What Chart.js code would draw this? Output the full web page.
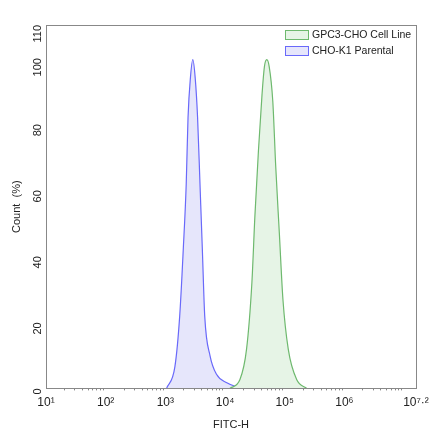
<!DOCTYPE html>
<html><head><meta charset="utf-8">
<script src="https://cdn.jsdelivr.net/npm/chart.js@4"></script>
<style>html,body{margin:0;padding:0;background:#fff}#w{width:440px;height:440px}</style>
</head><body><div id="w"><canvas id="c"></canvas></div>
<script>
const parentalX=[3.02,3.16,3.24,3.30,3.35,3.38,3.42,3.46,3.50,3.54,3.58,3.62,3.66,3.75,3.86,4.03,4.19,4.35];
const parentalY=[0,6.6,21.8,42,62,82,94,99.5,94,82,62,42,21.8,9.8,4.2,1.7,0.5,0];
const gpc3X=[4.08,4.25,4.36,4.45,4.50,4.56,4.62,4.66,4.70,4.74,4.80,4.85,4.91,4.97,5.06,5.20,5.37];
const gpc3Y=[0,2.7,11.8,32,52,72,89,97.4,99.5,97.4,87,67,47,27,11.8,2.7,0];
const xTicks=[1,2,3,4,5,6,7.2];
const xTickLabels=['10¹','10²','10³','10⁴','10⁵','10⁶','10⁷·²'];
const yTicks=[0,20,40,60,80,100,110];
const seriesNames=['GPC3-CHO Cell Line','CHO-K1 Parental'];
const pts=(xs,ys)=>xs.map((x,i)=>({x,y:ys[i]}));
const font={family:'"Liberation Sans", Arial, sans-serif',size:11};
const minor={id:'minor',afterDraw(ch){const s=ch.scales.x,c=ch.ctx,b=ch.chartArea.bottom;c.save();c.strokeStyle='#888';c.lineWidth=1;
 for(let d=1;d<7.2;d++){for(let k=2;k<10;k++){const v=d+Math.log10(k);if(v>7.2)break;const p=Math.round(s.getPixelForValue(v))+0.5;c.beginPath();c.moveTo(p,b);c.lineTo(p,b+2);c.stroke();}}c.restore();}};
const legend={id:'lg',afterDraw(ch){const a=ch.chartArea,c=ch.ctx;c.save();c.font='10.5px "Liberation Sans", Arial, sans-serif';c.textBaseline='middle';
 ch.data.datasets.forEach((d,i)=>{const y=a.top+10+i*16;const x=a.right-131;c.fillStyle=d.backgroundColor;c.fillRect(x,y-4,23,9);c.strokeStyle=d.borderColor;c.lineWidth=1;c.strokeRect(x+0.5,y-4.5,23,9);c.fillStyle='#222';c.fillText(d.label,x+27,y);});c.restore();}};
new Chart(document.getElementById('c'),{type:'line',
data:{datasets:[
 {label:seriesNames[0],data:pts(gpc3X,gpc3Y),borderColor:'rgb(110,185,110)',backgroundColor:'rgba(230,244,230,1)',fill:'origin',borderWidth:1.2,pointRadius:0,cubicInterpolationMode:'monotone'},
 {label:seriesNames[1],data:pts(parentalX,parentalY),borderColor:'rgb(105,105,250)',backgroundColor:'rgba(230,230,251,1)',fill:'origin',borderWidth:1.2,pointRadius:0,cubicInterpolationMode:'monotone'}]},
options:{responsive:true,maintainAspectRatio:false,animation:false,
 layout:{padding:{left:10,right:24,top:25,bottom:0}},
 plugins:{tooltip:{enabled:false},legend:{display:false}},
 scales:{
  x:{type:'linear',min:1,max:7.2,afterBuildTicks:s=>{s.ticks=xTicks.map(v=>({value:v}));},
   ticks:{autoSkip:false,maxRotation:0,font:{...font,size:12},color:'#222',callback:(v)=>xTickLabels[xTicks.indexOf(v)]},
   grid:{display:false,drawTicks:true,tickLength:4,tickColor:'#777'},border:{color:'#888'},
   title:{display:true,text:'FITC-H',font,color:'#222',padding:{top:6,bottom:8}}},
  y:{min:0,max:110,afterBuildTicks:s=>{s.ticks=yTicks.map(v=>({value:v}));},
   afterFit:s=>{s.width=36;},
   ticks:{autoSkip:false,minRotation:90,maxRotation:90,font,color:'#222',padding:4},
   grid:{display:false,drawTicks:true,tickLength:4,tickColor:'#777'},border:{color:'#888'},
   title:{display:true,text:'Count  (%)',font,color:'#222',padding:{top:0,bottom:0}}}
 }},
plugins:[minor,legend,{id:'frame',afterDraw(ch){const a=ch.chartArea,c=ch.ctx;c.save();c.strokeStyle='#888';c.lineWidth=1;c.strokeRect(Math.round(a.left)+0.5,Math.round(a.top)+0.5,Math.round(a.right-a.left),Math.round(a.bottom-a.top));c.restore();}}]
});
</script></body></html>
